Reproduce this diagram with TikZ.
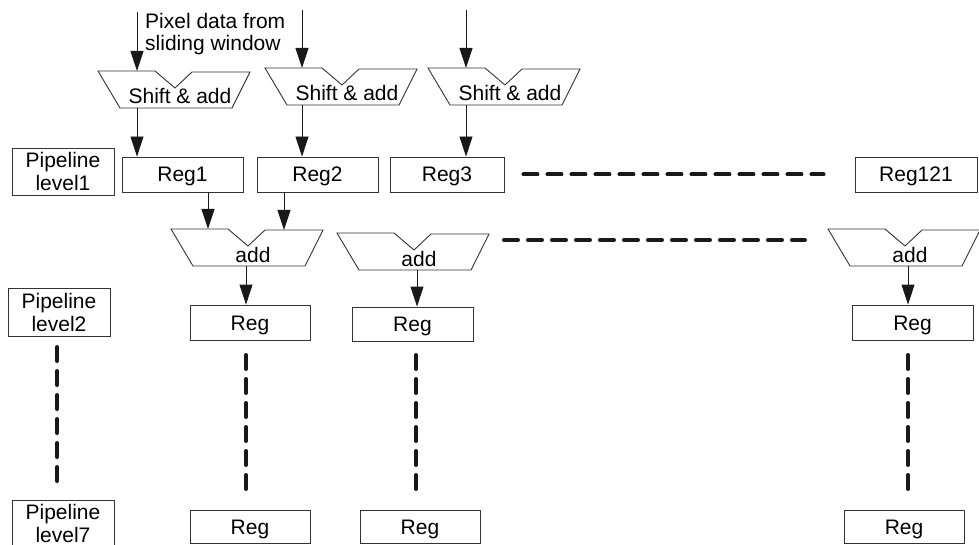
\documentclass[tikz,border=0pt]{standalone}
\usepackage{fontspec}
\setmainfont{Liberation Sans}
\usetikzlibrary{arrows.meta}
\newcommand{\ntrap}[4]{%
  \draw[shp] (#2,#3) -- ++(57,0) -- ++(20,17) -- ++(17,-16) -- ++(58,0) -- ++(-18,36) -- ++(-112,0) -- cycle;
  \node[anchor=base] (#1) at (#2+82,#3+33) {#4};
}
\begin{document}
\begin{tikzpicture}[x=1pt,y=-1pt,
  every node/.style={font=\fontsize{21}{22}\selectfont, inner sep=0pt},
  box/.style={draw=black!80, line width=0.9pt, minimum height=35pt, text height=15pt, text depth=0pt},
  lvl/.style={draw=black!80, line width=0.9pt, minimum width=102pt, minimum height=47pt, align=center, font=\fontsize{21}{23}\selectfont},
  shp/.style={draw=black!80, line width=0.9pt, line join=miter},
  arr/.style={draw=black!90, line width=0.9pt, -{Triangle[length=20pt,width=13pt]}},
  dots/.style={line width=4pt, dash pattern=on 14pt off 10pt, line cap=round, black!90}]
\useasboundingbox (0,0) rectangle (979,545);
\clip (0,0) rectangle (979,545);

% input label
\node[align=left, anchor=north west] (lbl) at (145,13) {Pixel data from\\sliding window};

% shift & add units
\ntrap{sa1}{98}{71}{Shift \& add}
\ntrap{sa2}{265}{68}{Shift \& add}
\ntrap{sa3}{428}{68}{Shift \& add}

% level 1 registers
\node[box, minimum width=121pt] (r1) at (182.5,174.5) {Reg1};
\node[box, minimum width=121pt] (r2) at (317.5,174.5) {Reg2};
\node[box, minimum width=114pt] (r3) at (447,174.5) {Reg3};
\node[box, minimum width=122pt] (r121) at (916,174.5) {Reg121};

% pipeline level labels
\node[lvl] (pl1) at (63,171.5) {Pipeline\\level1};
\node[lvl, minimum height=48pt] (pl2) at (59,312) {Pipeline\\level2};
\node[lvl] (pl7) at (63,523.5) {Pipeline\\level7};

% adders
\ntrap{ad1}{171}{229}{add}
\ntrap{ad2}{337}{233}{add}
\ntrap{ad3}{828}{229}{add}

% level 2 registers
\node[box, minimum width=120pt] (q1) at (250,322.5) {Reg};
\node[box, minimum width=121pt, minimum height=34pt] (q2) at (412.5,324) {Reg};
\node[box, minimum width=121pt] (q3) at (912.5,322.5) {Reg};

% level 7 registers
\node[box, minimum width=120pt, minimum height=33pt] (z1) at (250,526.5) {Reg};
\node[box, minimum width=120pt, minimum height=33pt] (z2) at (420,526.5) {Reg};
\node[box, minimum width=120pt, minimum height=33pt] (z3) at (904,526.5) {Reg};

% coordinates
\coordinate (p1) at (137,12);
\coordinate (p2) at (302,10);
\coordinate (p3) at (466,10);
\coordinate (sa1t) at (137,71);
\coordinate (sa2t) at (302,68);
\coordinate (sa3t) at (466,68);
\coordinate (sa1b) at (137,108);
\coordinate (sa2b) at (302,105);
\coordinate (sa3b) at (466,105);
\coordinate (ad1i1) at (208,229);
\coordinate (ad1i2) at (284,230);
\coordinate (ad1b) at (246,266);
\coordinate (ad2b) at (417,270);
\coordinate (ad3b) at (908,266);

% arrows
\draw[arr] (p1) -- (sa1t);
\draw[arr] (p2) -- (sa2t);
\draw[arr] (p3) -- (sa3t);
\draw[arr] (sa1b) -- (sa1b |- r1.north);
\draw[arr] (sa2b) -- (sa2b |- r2.north);
\draw[arr] (sa3b) -- (sa3b |- r3.north);
\draw[arr] (r1.south -| ad1i1) -- (ad1i1);
\draw[arr] (r2.south -| ad1i2) -- (ad1i2);
\draw[arr] (ad1b) -- (ad1b |- q1.north);
\draw[arr] (ad2b) -- (ad2b |- q2.north);
\draw[arr] (ad3b) -- (ad3b |- q3.north);

% ellipsis dashes
\coordinate (h2a) at (504,240);
\coordinate (h2b) at (805,240);
\coordinate (v0a) at (57,347);
\coordinate (v0b) at (57,481);
\coordinate (v1a) at (246,355);
\coordinate (v1b) at (246,489);
\coordinate (v2a) at (416,355);
\coordinate (v2b) at (416,489);
\coordinate (v3a) at (908,355);
\coordinate (v3b) at (908,489);
\draw[dots] ([xshift=19pt]r3.east) -- ([xshift=-31pt]r121.west);
\draw[dots] (h2a) -- (h2b);
\draw[dots] (v0a) -- (v0b);
\draw[dots] (v1a) -- (v1b);
\draw[dots] (v2a) -- (v2b);
\draw[dots] (v3a) -- (v3b);
\end{tikzpicture}
\end{document}
